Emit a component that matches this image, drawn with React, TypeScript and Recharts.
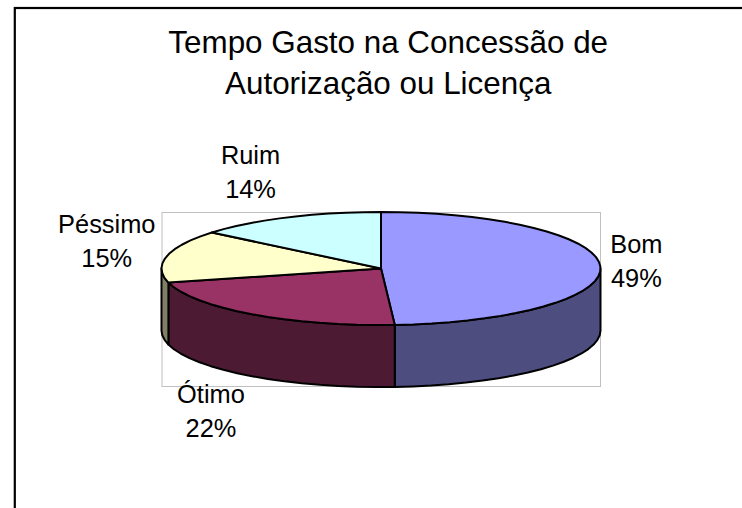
import React from 'react';
import { PieChart, Pie, Cell } from 'recharts';

const categories = ['Bom', 'Ótimo', 'Péssimo', 'Ruim'];
const shares = [49, 22, 15, 14];
const topColors = ['#9999FF', '#993366', '#FFFFCC', '#CCFFFF'];
const wallColors = ['#4D4D80', '#4D1A33', '#808066', '#668080'];
const titleLines = ['Tempo Gasto na Concessão de', 'Autorização ou Licença'];

const tableData = categories.map((name, i) => ({ name, value: shares[i] }));

const W = 742;
const H = 508;
const CX = 381;
const CY = 268.5;
const RX = 219.5;
const SQUASH = 56.5 / 219.5;
const DEPTH = 62;
const FONT = '"Liberation Sans", Arial, sans-serif';
const labelCenters: Record<string, [number, number]> = {
  Bom: [36, -14],
  'Ótimo': [-41, 89],
  'Péssimo': [-60, -23],
  Ruim: [-37, -53],
};

const pt = (cx: number, cy: number, r: number, deg: number): [number, number] => {
  const a = (deg * Math.PI) / 180;
  return [cx + r * Math.cos(a), cy - r * SQUASH * Math.sin(a)];
};

const arcPts = (cx: number, cy: number, r: number, from: number, to: number) => {
  const n = Math.max(1, Math.ceil(Math.abs(to - from) / 5));
  const out: [number, number][] = [];
  for (let i = 0; i <= n; i++) out.push(pt(cx, cy, r, from + ((to - from) * i) / n));
  return out;
};

const toPath = (pts: [number, number][]) =>
  pts.map((p, i) => `${i ? 'L' : 'M'}${p[0].toFixed(2)},${p[1].toFixed(2)}`).join(' ') + ' Z';

const TopSlice = (p: any) => {
  const d = toPath([[p.cx, p.cy], ...arcPts(p.cx, p.cy, p.outerRadius, p.startAngle, p.endAngle)]);
  return <path d={d} fill={p.fill} stroke="#000" strokeWidth={2} strokeLinejoin="round" />;
};

const WallSlice = (p: any) => {
  const from = Math.min(p.startAngle, 0);
  const to = Math.max(p.endAngle, -180);
  if (from <= to) return <g />;
  const upper = arcPts(p.cx, p.cy, p.outerRadius, from, to);
  const lower = arcPts(p.cx, p.cy + DEPTH, p.outerRadius, to, from);
  return <path d={toPath([...upper, ...lower])} fill={p.fill} stroke="#000" strokeWidth={2} strokeLinejoin="round" />;
};

const renderLabel = (p: any) => {
  const a = (p.midAngle * Math.PI) / 180;
  const shift = labelCenters[p.name];
  const x = p.cx + p.outerRadius * Math.cos(a) + shift[0];
  const y = p.cy - p.outerRadius * SQUASH * Math.sin(a) + shift[1];
  return (
    <text x={x} y={y} textAnchor="middle" fontFamily={FONT} fontSize={25.4} fill="#000">
      <tspan x={x} y={y}>{p.name}</tspan>
      <tspan x={x} y={y + 34}>{`${p.value}%`}</tspan>
    </text>
  );
};

export default function App() {
  return (
    <div style={{ position: 'absolute', left: 0, top: 0, width: W, height: H, background: '#fff' }}>
      <PieChart width={W} height={H} margin={{ top: 0, right: 0, bottom: 0, left: 0 }}>
        <rect x={14.8} y={8} width={900} height={700} fill="#fff" stroke="#000" strokeWidth={2.2} />
        <rect x={162} y={212.5} width={438.5} height={174} fill="none" stroke="#C0C0C0" strokeWidth={1} />
        {titleLines.map((t, i) => (
          <text key={t} x={388.2} y={53 + i * 40.5} textAnchor="middle" fontFamily={FONT} fontSize={31.4} fill="#000">{t}</text>
        ))}
        <Pie
          data={tableData}
          dataKey="value"
          nameKey="name"
          cx={CX}
          cy={CY}
          innerRadius={0}
          outerRadius={RX}
          startAngle={90}
          endAngle={-270}
          isAnimationActive={false}
          label={false}
          labelLine={false}
          shape={WallSlice}
        >
          {wallColors.map((c) => <Cell key={c} fill={c} />)}
        </Pie>
        <Pie
          data={tableData}
          dataKey="value"
          nameKey="name"
          cx={CX}
          cy={CY}
          innerRadius={0}
          outerRadius={RX}
          startAngle={90}
          endAngle={-270}
          isAnimationActive={false}
          label={renderLabel}
          labelLine={false}
          shape={TopSlice}
        >
          {topColors.map((c) => <Cell key={c} fill={c} />)}
        </Pie>
      </PieChart>
    </div>
  );
}
